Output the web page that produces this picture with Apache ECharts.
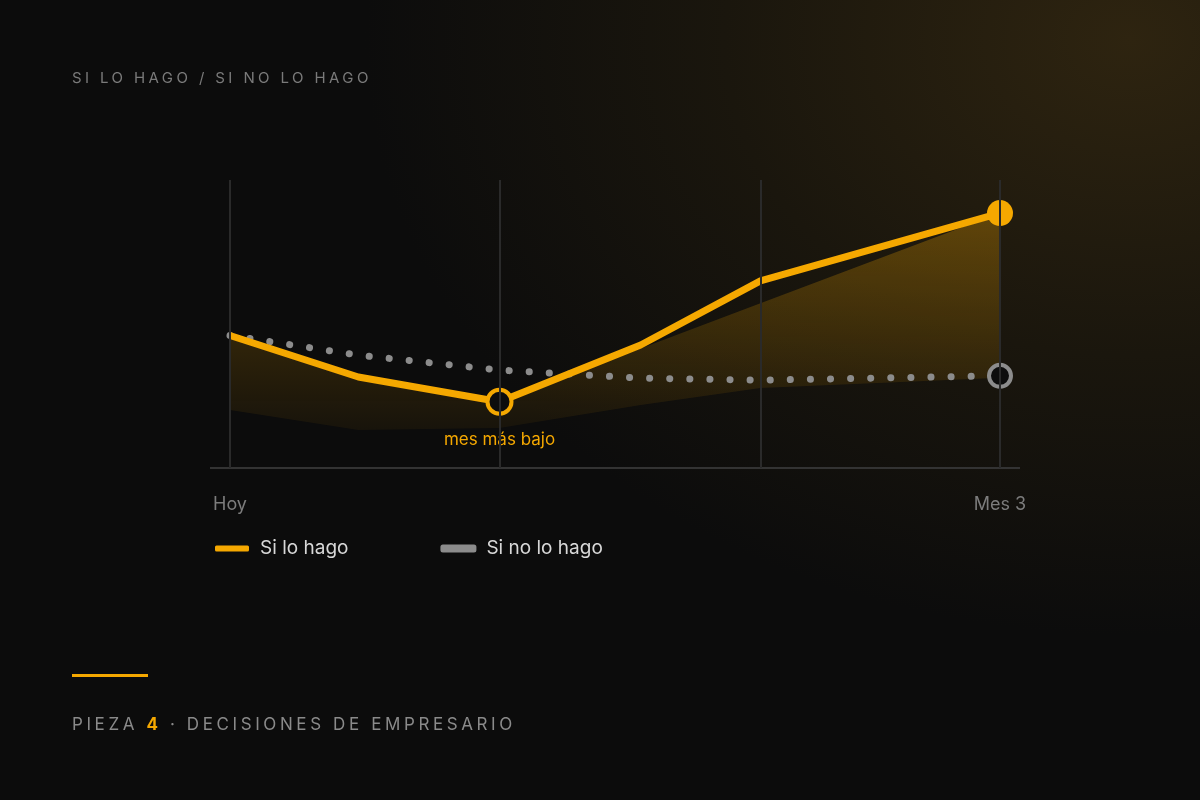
<!DOCTYPE html>
<html><head><meta charset="utf-8">
<script src="https://cdn.jsdelivr.net/npm/echarts@6/dist/echarts.min.js"></script>
<style>
html,body{margin:0;width:1200px;height:800px;overflow:hidden;font-family:"DejaVu Sans","Inter",sans-serif;}
body{background:radial-gradient(ellipse 900px 700px at 1130px 40px, #2e2410 0%, #1a160d 45%, #0c0c0c 85%) , #0c0c0c;}
#c{position:absolute;left:0;top:0;width:1200px;height:800px;}
.t{position:absolute;color:#7a7a7a;letter-spacing:3.4px;font-family:"Inter",sans-serif;}
</style></head><body>
<div id="c"></div>
<div class="t" style="left:72px;top:68px;font-size:15px;">SI LO HAGO / SI NO LO HAGO</div>
<div style="position:absolute;left:72px;top:674px;width:76px;height:3px;background:#f5a800;"></div>
<div class="t" style="left:72px;top:714px;font-size:17px;color:#8a8a8a;letter-spacing:3.6px;">PIEZA <b style="color:#f5a800">4</b> · DECISIONES DE EMPRESARIO</div>
<script>
const xs = [0, 15, 31.5, 48, 62, 90];
const siLoHago = [46, 31.6, 23, 42.7, 65, 88.5];
const siNoLoHago = [46, 39.2, 34, 31.2, 30.5, 32];
const bandUpper = [46, 31.6, 23, 41.5, 57.2, 88.5];
const bandLower = [20.1, 13.2, 13.9, 21.9, 27.8, 31.3];
const tickLabels = {0: 'Hoy', 90: 'Mes 3'};
const gridX = [0, 31.5, 62, 90];
const pair = a => xs.map((x, i) => [x, a[i]]);
const chart = echarts.init(document.getElementById('c'), null, {renderer: 'canvas'});
const bandData = xs.map((x, i) => [x, bandLower[i], bandUpper[i]]);
chart.setOption({
  backgroundColor: 'transparent',
  animation: false,
  grid: {left: 230, right: 200, top: 180, bottom: 332},
  xAxis: {type: 'value', min: 0, max: 90, interval: 90,
    axisLine: {show: false}, axisTick: {show: false}, splitLine: {show: false},
    axisLabel: {formatter: v => tickLabels[v] || '', color: '#7c7c7c', fontSize: 18, margin: 28, fontFamily: 'Inter',
      alignMinLabel: 'center', alignMaxLabel: 'center'}},
  yAxis: {type: 'value', min: 0, max: 100, show: false},
  legend: {left: 210, top: 534, itemGap: 92, itemWidth: 34, itemHeight: 6, icon: 'roundRect',
    textStyle: {color: '#d8d8d8', fontSize: 19, fontFamily: 'Inter', padding: [0, 0, 0, 6]},
    data: [{name: 'Si lo hago', itemStyle: {color: '#f5a800'}}, {name: 'Si no lo hago', itemStyle: {color: '#8c8c8c'}}]},
  graphic: [{type: 'line', shape: {x1: 210, y1: 468, x2: 1020, y2: 468}, style: {stroke: '#333', lineWidth: 2}, z: 1}],
  series: [
    {type: 'custom', name: 'band', data: bandData, silent: true, z: 1,
      renderItem: (params, api) => {
        if (params.dataIndex !== 0) return null;
        const top = bandData.map(d => api.coord([d[0], d[2]]));
        const bot = bandData.map(d => api.coord([d[0], d[1]])).reverse();
        return {type: 'polygon', shape: {points: top.concat(bot)},
          style: {fill: new echarts.graphic.LinearGradient(0, 0, 0, 1, [{offset: 0, color: 'rgba(245,168,0,0.30)'}, {offset: 1, color: 'rgba(245,168,0,0.05)'}])}};
      }},
    {type: 'line', name: 'grid', data: [], silent: true,
      markLine: {silent: true, symbol: 'none', label: {show: false}, lineStyle: {color: '#2a2a2a', type: 'solid', width: 2},
        data: gridX.map(x => ({xAxis: x}))}},
    {type: 'line', name: 'Si no lo hago', data: pair(siNoLoHago), z: 3,
      lineStyle: {color: '#8c8c8c', width: 7, type: [0.1, 20], cap: 'round'},
      itemStyle: {color: '#0d0d0d', borderColor: '#8c8c8c', borderWidth: 4},
      symbol: 'circle', symbolSize: (v, p) => p.dataIndex === xs.length - 1 ? 22 : 0, showSymbol: true},
    {type: 'line', name: 'Si lo hago', z: 4,
      lineStyle: {color: '#f5a800', width: 7}, itemStyle: {color: '#f5a800'},
      symbol: 'circle', symbolSize: (v, p) => p.dataIndex === xs.length - 1 ? 26 : (p.dataIndex === 2 ? 24 : 0),
      data: pair(siLoHago).map((d, i) => i === 2 ? {value: d, itemStyle: {color: '#0d0d0d', borderColor: '#f5a800', borderWidth: 4},
        label: {show: true, position: 'bottom', distance: 16, formatter: 'mes más bajo', color: '#f5a800', fontSize: 17, fontFamily: 'Inter'}} : d)}
  ]
});
</script></body></html>
